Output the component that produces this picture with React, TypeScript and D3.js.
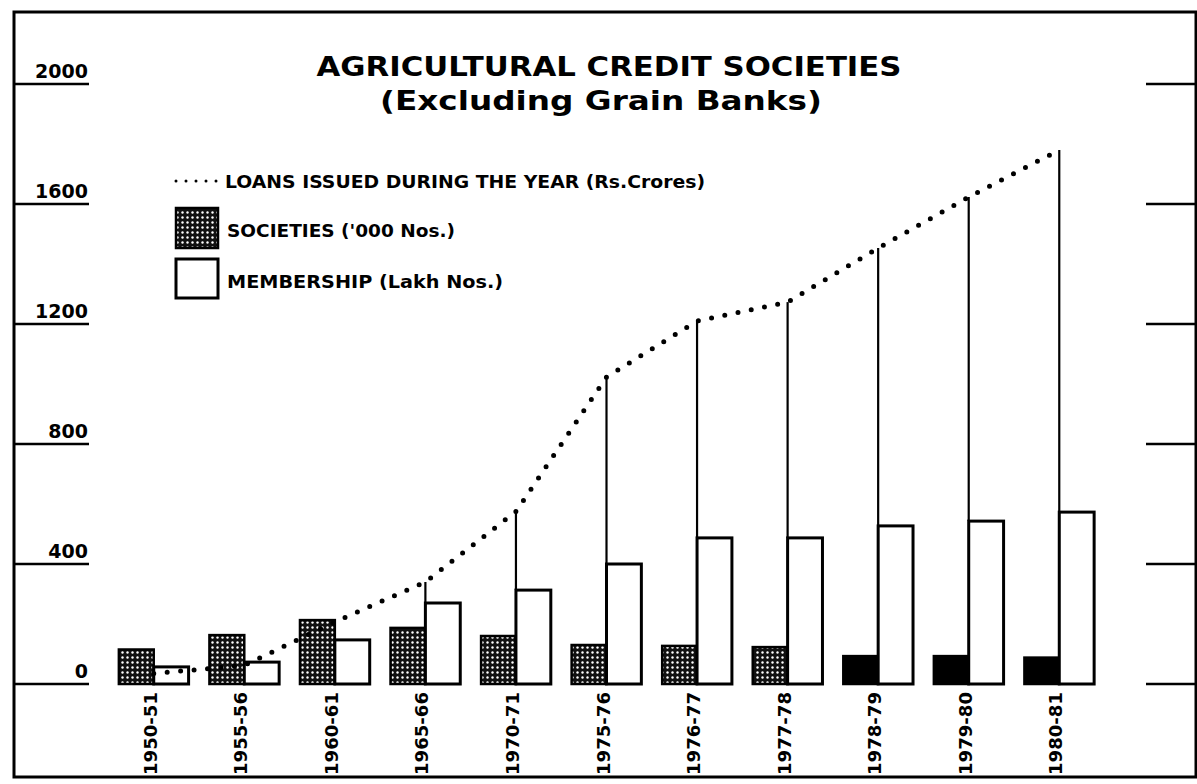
import React from "react";
import * as d3 from "d3";

const categories = ["1950-51", "1955-56", "1960-61", "1965-66", "1970-71", "1975-76", "1976-77", "1977-78", "1978-79", "1979-80", "1980-81"];
const societies = [115, 163, 213, 187, 160, 130, 127, 123, 93, 93, 88];
const membership = [57, 73, 147, 270, 313, 400, 487, 487, 527, 543, 573];
const loans = [35, 62, 207, 340, 575, 1023, 1210, 1273, 1453, 1623, 1780];
const yTicks = [0, 400, 800, 1200, 1600, 2000];
const solidFrom = "1978-79";

const W = 1197;
const H = 784;
const FONT = "'DejaVu Sans', sans-serif";

export default function App() {
  const y = d3.scaleLinear().domain([0, 2000]).range([684, 84]);
  const x = d3.scaleBand<string>().domain(categories).range([108, 1105]).paddingInner(0.23).paddingOuter(0.12);
  const xs = d3.scaleBand<string>().domain(["soc", "mem"]).range([0, x.bandwidth()]);
  const center = (c: string) => (x(c) as number) + x.bandwidth() / 2;
  const solidIdx = categories.indexOf(solidFrom);

  const line = d3
    .line<number>()
    .x((_, i) => center(categories[i]))
    .y((d) => y(d))
    .curve(d3.curveLinear);

  return (
    <svg width={W} height={H} style={{ position: "absolute", left: 0, top: 0, background: "#fff" }} fontFamily={FONT}>
      <defs>
        <pattern id="stip" width={5} height={5} patternUnits="userSpaceOnUse">
          <rect width={5} height={5} fill="#111" />
          <circle cx={2.5} cy={2.5} r={1.2} fill="#fff" />
        </pattern>
      </defs>
      <rect x={0} y={0} width={W} height={H} fill="#fff" />
      {/* frame */}
      <rect x={14} y={12} width={1182} height={765} fill="none" stroke="#000" strokeWidth={3} />

      {/* title */}
      <text x={609} y={76} textAnchor="middle" fontSize={26} fontWeight="bold" textLength={585} lengthAdjust="spacingAndGlyphs">
        AGRICULTURAL CREDIT  SOCIETIES
      </text>
      <text x={601} y={110} textAnchor="middle" fontSize={26} fontWeight="bold" textLength={442} lengthAdjust="spacingAndGlyphs">
        (Excluding Grain Banks)
      </text>

      {/* y ticks left and right */}
      {yTicks.map((t) => (
        <g key={t}>
          <line x1={14} x2={89} y1={y(t)} y2={y(t)} stroke="#000" strokeWidth={2.5} />
          <text x={88} y={y(t) - 6} textAnchor="end" fontSize={19} fontWeight="bold">
            {t}
          </text>
          <line x1={1146} x2={1196} y1={y(t)} y2={y(t)} stroke="#000" strokeWidth={2.5} />
        </g>
      ))}

      {/* bars */}
      {categories.map((c, i) => {
        const x0 = x(c) as number;
        const sx = x0 + (xs("soc") as number);
        const mx = x0 + (xs("mem") as number);
        return (
          <g key={c}>
            <rect
              x={sx}
              y={y(societies[i])}
              width={xs.bandwidth()}
              height={y(0) - y(societies[i])}
              fill={i >= solidIdx ? "#000" : "url(#stip)"}
              stroke="#000"
              strokeWidth={2.5}
            />
            <rect
              x={mx}
              y={y(membership[i])}
              width={xs.bandwidth()}
              height={y(0) - y(membership[i])}
              fill="#fff"
              stroke="#000"
              strokeWidth={3}
            />
            {loans[i] > membership[i] && (
              <line x1={mx} x2={mx} y1={y(membership[i])} y2={y(loans[i])} stroke="#000" strokeWidth={2.2} />
            )}
            <text
              transform={`translate(${center(c) + 3},692) rotate(-90)`}
              textAnchor="end"
              fontSize={18}
              fontWeight="bold"
              textLength={83}
              lengthAdjust="spacingAndGlyphs"
            >
              {c}
            </text>
          </g>
        );
      })}

      {/* loans dotted line */}
      <path d={line(loans) || ""} fill="none" stroke="#000" strokeWidth={5} strokeLinecap="round" strokeDasharray="0 13.5" />

      {/* legend */}
      <line x1={176} x2={218} y1={181} y2={181} stroke="#000" strokeWidth={3} strokeLinecap="round" strokeDasharray="0 10" />
      <text x={225} y={188} fontSize={18} fontWeight="bold" textLength={480} lengthAdjust="spacingAndGlyphs">
        LOANS ISSUED DURING THE YEAR (Rs.Crores)
      </text>
      <rect x={176} y={208} width={42} height={40} fill="url(#stip)" stroke="#000" strokeWidth={2.5} />
      <text x={227} y={237} fontSize={18} fontWeight="bold" textLength={228} lengthAdjust="spacingAndGlyphs">
        SOCIETIES ('000 Nos.)
      </text>
      <rect x={176} y={259} width={42} height={39} fill="#fff" stroke="#000" strokeWidth={3} />
      <text x={227} y={288} fontSize={18} fontWeight="bold" textLength={276} lengthAdjust="spacingAndGlyphs">
        MEMBERSHIP (Lakh Nos.)
      </text>
    </svg>
  );
}
